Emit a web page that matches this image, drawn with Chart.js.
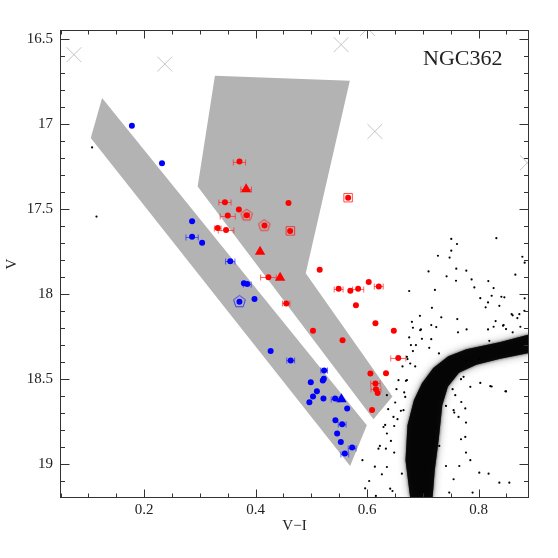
<!DOCTYPE html>
<html lang="en">
<head>
  <meta charset="UTF-8" />
  <title>NGC362 colour-magnitude diagram</title>
  <script src="https://cdn.jsdelivr.net/npm/chart.js"></script>
  <style>
    html, body { margin: 0; padding: 0; background: #fff; }
    #wrap { width: 558px; height: 558px; }
  </style>
</head>
<body>
<div id="wrap"><canvas id="cmd" width="558" height="558"></canvas></div>

<script>
  // ---- data (V-I colour, V magnitude) ----

  // grey selection boxes
  const blueBoxX = [0.1245, 0.1042, 0.5696, 0.5996];
  const blueBoxV = [16.849, 17.084, 19.010, 18.771];
  const redBoxX = [0.327, 0.5691, 0.490, 0.6456, 0.6115, 0.296];
  const redBoxV = [16.718, 16.747, 17.878, 18.602, 18.735, 17.369];

  // outline of the dense cluster sequence
  const bandX = [0.6775, 0.6690, 0.6725, 0.6840, 0.6985, 0.7188, 0.7457, 0.7781, 0.8392, 0.8931,
                 0.8931, 0.8392, 0.7960, 0.7650, 0.7450, 0.7350, 0.7285, 0.7215, 0.7175];
  const bandV = [19.20, 18.976, 18.771, 18.624, 18.524, 18.435, 18.365, 18.324, 18.282, 18.235,
                 18.345, 18.380, 18.415, 18.462, 18.545, 18.653, 18.859, 19.035, 19.20];

  // scattered field stars
  const fieldX = [0.7511, 0.7614, 0.8320, 0.7511, 0.7272, 0.7481, 0.7103, 0.7601, 0.7781, 0.7427,
                  0.7876, 0.8176, 0.8661, 0.8787, 0.8828, 0.6756, 0.7218, 0.8032, 0.8271, 0.8410,
                  0.8464, 0.8171, 0.8128, 0.8828, 0.7164, 0.6949, 0.7332, 0.7619, 0.6805, 0.6823,
                  0.7152, 0.7242, 0.6967, 0.8307, 0.8613, 0.8697, 0.8440, 0.7786, 0.7632, 0.8171,
                  0.6985, 0.7152, 0.6787, 0.6823, 0.7116, 0.7290, 0.6756, 0.6877, 0.6726, 0.6636,
                  0.6864, 0.6697, 0.6528, 0.6667, 0.6505, 0.6607, 0.6379, 0.6546, 0.6325, 0.6487,
                  0.6356, 0.6428, 0.6230, 0.6338, 0.6487, 0.5917, 0.6140, 0.6266, 0.6038, 0.5966,
                  0.6158, 0.6456, 0.7775, 0.8014, 0.8236, 0.8494, 0.7686, 0.7535, 0.7565, 0.7775,
                  0.7686, 0.7775, 0.7655, 0.8014, 0.8374, 0.8553, 0.7553, 0.7894, 0.7475, 0.7296,
                  0.7416, 0.7416, 0.8733, 0.8823, 0.8595, 0.8374, 0.8494, 0.8613, 0.8194, 0.8236,
                  0.7925, 0.7596, 0.8212, 0.8482, 0.8032, 0.7853, 0.7732, 0.7583, 0.7691, 0.7763,
                  0.7553, 0.7642, 0.8271, 0.8451, 0.8751, 0.6954, 0.6715, 0.6775, 0.6715, 0.6685,
                  0.6654, 0.6564, 0.6356, 0.6474, 0.6295, 0.6205, 0.6356, 0.6625, 0.6415, 0.7763,
                  0.7853, 0.8181, 0.1066, 0.1145];
  const fieldV = [17.676, 17.706, 17.672, 17.745, 17.775, 17.786, 17.867, 17.851, 17.863, 17.896,
                  17.914, 17.924, 17.886, 17.781, 17.816, 17.982, 17.976, 18.024, 17.965, 18.016,
                  18.019, 18.049, 18.078, 18.025, 18.081, 18.128, 18.137, 18.147, 18.163, 18.198,
                  18.182, 18.194, 18.208, 18.159, 18.125, 18.141, 18.186, 18.208, 18.225, 18.208,
                  18.263, 18.265, 18.300, 18.335, 18.316, 18.349, 18.255, 18.300, 18.382, 18.425,
                  18.425, 18.510, 18.559, 18.578, 18.637, 18.686, 18.676, 18.735, 18.769, 18.775,
                  18.819, 18.863, 18.892, 18.908, 18.931, 18.976, 19.014, 19.059, 19.098, 19.141,
                  19.186, 19.157, 18.392, 18.382, 18.543, 18.572, 18.500, 18.559, 18.696, 18.755,
                  18.853, 18.931, 19.010, 19.049, 19.108, 19.108, 19.088, 19.166, 19.166, 18.892,
                  18.657, 19.010, 18.118, 18.098, 18.118, 18.069, 18.206, 18.225, 18.275, 18.010,
                  17.961, 17.922, 18.541, 18.571, 18.522, 18.545, 18.486, 18.594, 18.634, 18.672,
                  18.682, 18.722, 18.192, 18.182, 18.192, 18.212, 18.369, 18.408, 18.506, 18.604,
                  18.682, 18.506, 18.594, 18.722, 18.781, 18.908, 19.016, 19.055, 19.143, 18.839,
                  18.976, 19.055, 17.139, 17.545];

  // bright grey crosses
  const crossX = [0.074, 0.237, 0.5535, 0.601, 0.614, 0.8877];
  const crossV = [16.594, 16.649, 16.535, 16.44, 17.045, 17.229];

  // red candidates (xerr = half width of the colour error bar)
  const redX = [0.371, 0.345, 0.370, 0.459, 0.350, 0.384, 0.416, 0.462, 0.332, 0.347,
                0.423, 0.515, 0.549, 0.570, 0.584, 0.603, 0.621, 0.455, 0.580, 0.615,
                0.503, 0.556, 0.648, 0.656, 0.606, 0.634, 0.615, 0.616, 0.619, 0.609, 0.566];
  const redV = [17.222, 17.461, 17.504, 17.465, 17.539, 17.537, 17.598, 17.629, 17.612, 17.624,
                17.902, 17.857, 17.969, 17.981, 17.969, 17.929, 17.955, 18.055, 18.066, 18.172,
                18.216, 18.271, 18.216, 18.375, 18.466, 18.465, 18.525, 18.559, 18.581, 18.681, 17.434];
  const redErr = [0.011, 0.011, 0, 0, 0.0135, 0.005, 0, 0, 0.006, 0.014,
                  0.014, 0, 0.008, 0, 0.010, 0, 0.008, 0.0066, 0, 0,
                  0, 0, 0, 0.0135, 0, 0, 0.0084, 0.009, 0, 0, 0];
  const redTriX = [0.383, 0.408, 0.444];
  const redTriV = [17.384, 17.751, 17.904];
  const redTriErr = [0.0096, 0, 0];
  const redPentX = [0.384, 0.4156];
  const redPentV = [17.537, 17.598];
  const redSqX = [0.4624, 0.566];
  const redSqV = [17.629, 17.434];

  // blue candidates
  const blueX = [0.178, 0.232, 0.286, 0.286, 0.304, 0.3545, 0.379, 0.385, 0.371, 0.398,
                 0.427, 0.463, 0.523, 0.499, 0.5206, 0.5224, 0.510, 0.503, 0.4965, 0.5217,
                 0.5427, 0.5643, 0.5432, 0.5553, 0.5463, 0.5529, 0.5601, 0.5732];
  const blueV = [17.012, 17.231, 17.572, 17.663, 17.698, 17.808, 17.937, 17.941, 18.045, 18.029,
                 18.334, 18.390, 18.449, 18.518, 18.508, 18.498, 18.571, 18.602, 18.635, 18.614,
                 18.614, 18.672, 18.741, 18.765, 18.819, 18.869, 18.937, 18.902];
  const blueErr = [0, 0, 0, 0.011, 0, 0.0084, 0, 0.007, 0, 0,
                   0, 0.007, 0.006, 0, 0, 0, 0, 0, 0, 0,
                   0.007, 0, 0, 0.007, 0, 0, 0.007, 0.007];
  const blueTriX = [0.554];
  const blueTriV = [18.618];
  const bluePentX = [0.371];
  const bluePentV = [18.045];

  // axes
  const xRange = [0.049, 0.8906];
  const vRange = [16.449, 19.198];
  const xTickLabels = [0.2, 0.4, 0.6, 0.8];
  const vTickLabels = [16.5, 17, 17.5, 18, 18.5, 19];
  const xMinorTicks = [0.05, 0.1, 0.15, 0.25, 0.3, 0.35, 0.45, 0.5, 0.55, 0.65, 0.7, 0.75, 0.85];
  const vMinorTicks = [16.6, 16.7, 16.8, 16.9, 17.1, 17.2, 17.3, 17.4, 17.6, 17.7, 17.8, 17.9,
                       18.1, 18.2, 18.3, 18.4, 18.6, 18.7, 18.8, 18.9, 19.1];

  const FONT = '"Liberation Serif", "DejaVu Serif", serif';
  const pts = (xs, ys) => xs.map((v, i) => ({ x: v, y: ys[i] }));

  function pentagon(color, r) {
    const s = Math.ceil(r * 2 + 4);
    const c = document.createElement('canvas');
    c.width = s; c.height = s;
    const g = c.getContext('2d');
    g.strokeStyle = color;
    g.lineWidth = 1;
    g.beginPath();
    for (let i = 0; i < 5; i++) {
      const a = -Math.PI / 2 + i * 2 * Math.PI / 5;
      const px = s / 2 + r * Math.cos(a), py = s / 2 + r * Math.sin(a);
      if (i) g.lineTo(px, py); else g.moveTo(px, py);
    }
    g.closePath();
    g.stroke();
    return c;
  }

  // grey boxes, the dense sequence and the error bars go under the markers
  const underlay = {
    id: 'underlay',
    beforeDatasetsDraw(chart) {
      const { ctx, chartArea: a, scales: { x, y } } = chart;
      ctx.save();
      ctx.beginPath();
      ctx.rect(a.left, a.top, a.right - a.left, a.bottom - a.top);
      ctx.clip();

      const path = (xs, ys) => {
        ctx.beginPath();
        xs.forEach((v, i) => {
          const px = x.getPixelForValue(v), py = y.getPixelForValue(ys[i]);
          if (i) ctx.lineTo(px, py); else ctx.moveTo(px, py);
        });
        ctx.closePath();
      };
      ctx.fillStyle = '#b3b3b3';
      path(blueBoxX, blueBoxV); ctx.fill();
      path(redBoxX, redBoxV); ctx.fill();

      // soft-edged sequence: blurred halo then the dense core
      ctx.save();
      ctx.shadowColor = 'rgba(0,0,0,0.7)';
      ctx.shadowBlur = 9;
      ctx.fillStyle = 'rgba(0,0,0,0.55)';
      path(bandX, bandV); ctx.fill();
      ctx.restore();
      ctx.save();
      ctx.shadowColor = 'rgba(0,0,0,0.8)';
      ctx.shadowBlur = 3;
      ctx.fillStyle = 'rgba(0,0,0,0.8)';
      path(bandX, bandV); ctx.fill();
      ctx.restore();

      const errbars = (xs, ys, es, color) => {
        ctx.strokeStyle = color;
        ctx.lineWidth = 1;
        xs.forEach((v, i) => {
          if (!es[i]) return;
          const py = Math.round(y.getPixelForValue(ys[i])) + 0.5;
          const x0 = x.getPixelForValue(v - es[i]), x1 = x.getPixelForValue(v + es[i]);
          ctx.beginPath();
          ctx.moveTo(x0, py); ctx.lineTo(x1, py);
          ctx.moveTo(x0, py - 3); ctx.lineTo(x0, py + 3);
          ctx.moveTo(x1, py - 3); ctx.lineTo(x1, py + 3);
          ctx.stroke();
        });
      };
      errbars(redX, redV, redErr, 'rgba(255,40,40,0.7)');
      errbars(redTriX, redTriV, redTriErr, 'rgba(255,40,40,0.7)');
      errbars(blueX, blueV, blueErr, 'rgba(40,40,255,0.7)');
      ctx.restore();
    }
  };

  // box, inward ticks on all four sides, cluster name
  const frame = {
    id: 'frame',
    afterDatasetsDraw(chart) {
      const { ctx, chartArea: a, scales: { x, y } } = chart;
      ctx.save();
      ctx.strokeStyle = '#333';
      ctx.lineWidth = 1;
      const L = Math.round(a.left) + 0.5, R = Math.round(a.right) - 0.5;
      const T = Math.round(a.top) + 0.5, B = Math.round(a.bottom) - 0.5;
      ctx.strokeRect(L, T, R - L, B - T);

      ctx.beginPath();
      const xt = (v, len) => {
        const px = Math.round(x.getPixelForValue(v)) + 0.5;
        ctx.moveTo(px, B); ctx.lineTo(px, B - len);
        ctx.moveTo(px, T); ctx.lineTo(px, T + len);
      };
      const yt = (v, len) => {
        const py = Math.round(y.getPixelForValue(v)) + 0.5;
        ctx.moveTo(L, py); ctx.lineTo(L + len, py);
        ctx.moveTo(R, py); ctx.lineTo(R - len, py);
      };
      xTickLabels.forEach(v => xt(v, 8));
      xMinorTicks.forEach(v => xt(v, 4));
      vTickLabels.forEach(v => yt(v, 9));
      vMinorTicks.forEach(v => yt(v, 4.5));
      ctx.stroke();

      ctx.fillStyle = '#222';
      ctx.font = '22px ' + FONT;
      ctx.textAlign = 'left';
      ctx.textBaseline = 'middle';
      ctx.fillText('NGC362', 423, 59);
      ctx.restore();
    }
  };

  const ctx = document.getElementById('cmd').getContext('2d');
  const cmdChart = new Chart(ctx, {
    type: 'scatter',
    data: {
      datasets: [
        {
          data: pts(fieldX, fieldV),
          pointStyle: 'circle', pointRadius: 1.1, borderWidth: 0,
          backgroundColor: '#000', clip: 0
        },
        {
          data: pts(crossX, crossV),
          pointStyle: 'crossRot', pointRadius: 10.5, borderWidth: 1,
          borderColor: '#c4c4c4', clip: 0
        },
        {
          data: pts(redX, redV),
          pointStyle: 'circle', pointRadius: 3, borderWidth: 0,
          backgroundColor: '#ff0000', clip: 0
        },
        {
          data: pts(redTriX, redTriV),
          pointStyle: 'triangle', pointRadius: 6, borderWidth: 0,
          backgroundColor: '#ff0000', clip: 0
        },
        {
          data: pts(redPentX, redPentV),
          pointStyle: pentagon('rgba(255,30,30,0.85)', 6), clip: 0
        },
        {
          data: pts(redSqX, redSqV),
          pointStyle: 'rect', pointRadius: 6, borderWidth: 1,
          borderColor: 'rgba(255,30,30,0.8)', backgroundColor: 'rgba(0,0,0,0)', clip: 0
        },
        {
          data: pts(blueX, blueV),
          pointStyle: 'circle', pointRadius: 3, borderWidth: 0,
          backgroundColor: '#0000ff', clip: 0
        },
        {
          data: pts(blueTriX, blueTriV),
          pointStyle: 'triangle', pointRadius: 6, borderWidth: 0,
          backgroundColor: '#0000ff', clip: 0
        },
        {
          data: pts(bluePentX, bluePentV),
          pointStyle: pentagon('rgba(40,40,255,0.85)', 6.2), clip: 0
        }
      ]
    },
    options: {
      responsive: false,
      animation: false,
      layout: { padding: { top: 30, right: 29, left: 0, bottom: 0 } },
      plugins: { legend: { display: false }, tooltip: { enabled: false } },
      scales: {
        x: {
          type: 'linear',
          min: xRange[0], max: xRange[1],
          grid: { display: false, drawTicks: false },
          border: { display: false },
          afterBuildTicks: s => { s.ticks = xTickLabels.map(v => ({ value: v })); },
          afterFit: s => { s.height = 60; },
          ticks: {
            padding: 3, color: '#222', maxRotation: 0,
            font: { family: FONT, size: 15 },
            callback: v => String(v)
          },
          title: {
            display: true, text: 'V\u2212I', color: '#222',
            font: { family: FONT, size: 15 },
            padding: { top: 0, bottom: 23 }
          }
        },
        y: {
          type: 'linear',
          reverse: true,
          min: vRange[0], max: vRange[1],
          grid: { display: false, drawTicks: false },
          border: { display: false },
          afterBuildTicks: s => { s.ticks = vTickLabels.map(v => ({ value: v })); },
          afterFit: s => { s.width = 60; },
          ticks: {
            padding: 7, color: '#222',
            font: { family: FONT, size: 15 },
            callback: v => String(v)
          },
          title: {
            display: true, text: 'V', color: '#222',
            font: { family: FONT, size: 15 },
            padding: { top: 3, bottom: 0 }
          }
        }
      }
    },
    plugins: [underlay, frame]
  });
</script>
</body>
</html>
